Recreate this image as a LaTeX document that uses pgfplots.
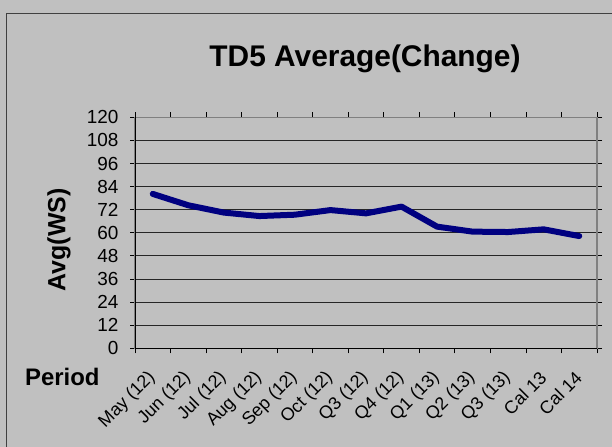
\documentclass[border=0pt]{standalone}
\usepackage{fontspec}
\setmainfont{Liberation Sans}
\usepackage{pgfplots}
\pgfplotsset{compat=1.18}
\definecolor{bg}{HTML}{C0C0C0}
\definecolor{navyline}{HTML}{000080}
\definecolor{frame}{HTML}{404040}
\begin{document}
\begin{tikzpicture}
\fill[bg] (0,0) rectangle (612bp,447bp);
\draw[frame, line width=1bp] (6.5bp,0) -- (6.5bp,433.5bp) -- (612bp,433.5bp);
\node[anchor=base, font=\bfseries\fontsize{30}{30}\selectfont] at (365bp,380.3bp) {TD5 Average(Change)};
\node[rotate=90, font=\bfseries\fontsize{25}{25}\selectfont] at (59bp,207bp) {Avg(WS)};
\node[anchor=base west, inner sep=0pt, font=\bfseries\fontsize{24}{24}\selectfont] at (25bp,61.3bp) {Period};
\begin{axis}[
  at={(135bp,98.7bp)}, anchor=south west,
  scale only axis, width=462bp, height=231bp,
  xmin=0, xmax=13, ymin=0, ymax=120,
  ytick={0,12,...,120},
  xtick={0.5,1.5,...,12.5},
  xticklabels={May (12),Jun (12),Jul (12),Aug (12),Sep (12),Oct (12),Q3 (12),Q4 (12),Q1 (13),Q2 (13),Q3 (13),Cal 13,Cal 14},
  minor xtick={0,1,...,13},
  major x tick style={draw=none},
  minor x tick style={black, line width=0.8bp},
  major y tick style={black, line width=0.8bp},
  tick align=outside,
  major tick length=5bp, minor tick length=5bp,
  ymajorgrids,
  grid style={black!85, line width=0.8bp},
  axis line style={draw=gray, line width=1.2bp},
  /pgf/number format/assume math mode=true,
  yticklabel style={font=\fontsize{19}{19}\selectfont, xshift=-8bp},
  xticklabel style={font=\fontsize{18}{18}\selectfont, xshift=1bp, yshift=-20bp, rotate=45, anchor=east, inner sep=2bp},
]
\addplot[navyline, line width=6bp, line join=round, line cap=round] coordinates {
(0.5,80.2) (1.5,74.3) (2.5,70.5) (3.5,68.7) (4.5,69.4) (5.5,71.8) (6.5,70.1)
(7.5,73.6) (8.5,63.2) (9.5,60.6) (10.5,60.4) (11.5,61.8) (12.5,58.3)};
\draw[black, line width=1.2bp] (rel axis cs:0,1) -- (rel axis cs:0,0) -- (rel axis cs:1,0);
\end{axis}
\pgfresetboundingbox
\path (0,0) rectangle (612bp,447bp);
\end{tikzpicture}
\end{document}
